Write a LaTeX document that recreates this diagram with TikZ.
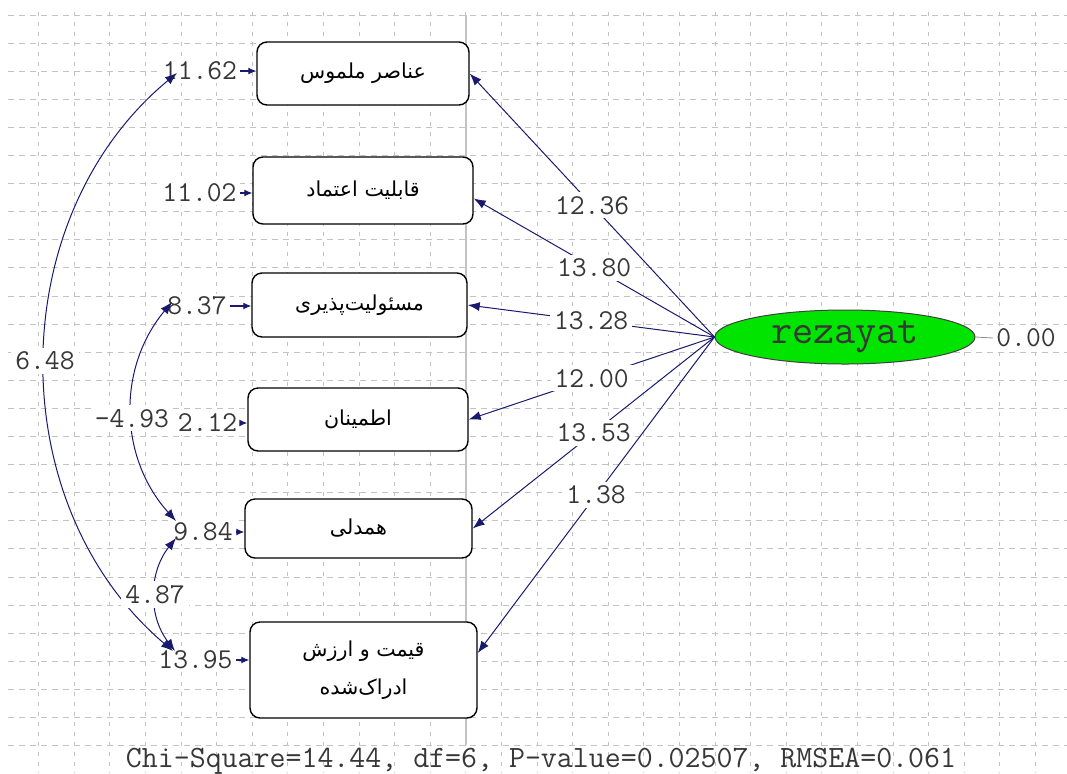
\documentclass[tikz,border=0pt]{standalone}
\usepackage{fontspec}
\newfontfamily\farsifont[Script=Arabic]{DejaVu Sans}
\TeXXeTstate=1
\usepackage{tikz}
\usetikzlibrary{positioning, shapes.geometric, calc, arrows.meta}
\definecolor{lisrel_navy}{RGB}{25,25,110}
\definecolor{latent_green}{RGB}{0,228,0}
\definecolor{grid_gray}{RGB}{195,195,195}
\definecolor{label_gray}{RGB}{55,55,55}
\tikzstyle{indicator} = [
    rectangle, rounded corners=5pt, align=center,
    inner sep=0pt, line width=0.7pt,
    draw=black, fill=white, text=black,
    font=\farsifont\fontsize{10.3}{19}\selectfont,
]
\tikzstyle{latent} = [
    ellipse, minimum width=130pt, minimum height=27pt, inner sep=0pt,
    draw=black!75, line width=0.5pt, fill=latent_green, text=label_gray,
    font=\ttfamily\fontsize{20.5}{22}\selectfont
]
\tikzstyle{value} = [inner sep=1.5pt, fill=white, text=label_gray, font=\ttfamily\fontsize{14.4}{16}\selectfont]
\tikzstyle{path_label} = [value, inner sep=2pt]
\tikzstyle{arrow} = [line width=0.5pt, lisrel_navy, -{Latex[length=6pt,width=4.5pt]}]
\tikzstyle{err_arrow} = [line width=0.6pt, lisrel_navy, -{Latex[length=4pt,width=3.5pt]}]
\tikzstyle{cov} = [line width=0.5pt, lisrel_navy, {Latex[length=6pt,width=4.5pt]}-{Latex[length=6pt,width=4.5pt]}]
\tikzstyle{grid_h} = [grid_gray, line width=0.5pt, dash pattern=on 3pt off 2.5pt]
\tikzstyle{grid_v} = [grid_gray, line width=0.5pt, dash pattern=on 2pt off 3pt]

\begin{document}
\begin{tikzpicture}[x=0.5pt, y=-0.5pt]
    \useasboundingbox (0,0) rectangle (1067,773);

    % grid
    \foreach \k in {0,...,26} {
        \draw[grid_h] (8,{15+28.1*\k}) -- (1067,{15+28.1*\k});
    }
    \foreach \k in {1,...,29} {
        \draw[grid_v] ({3+35.6*\k},12) -- ({3+35.6*\k},773);
    }
    \draw[grid_gray, line width=0.6pt] (466,15) -- (466,745);

    % indicator nodes
    \node[indicator, minimum width=106pt, minimum height=31.5pt] (tangibles) at (363,73.5) {\beginR عناصر ملموس\endR};
    \node[indicator, minimum width=110pt, minimum height=33.5pt] (reliability) at (363,190.5) {\beginR قابلیت اعتماد\endR};
    \node[indicator, minimum width=107.5pt, minimum height=32pt] (responsibility) at (359.5,305) {\beginR مسئولیت‌پذیری\endR};
    \node[indicator, minimum width=110pt, minimum height=31.5pt] (assurance) at (358,419.5) {\beginR اطمینان\endR};
    \node[indicator, minimum width=113.5pt, minimum height=29.5pt] (empathy) at (358.5,528.5) {\beginR همدلی\endR};
    \node[indicator, minimum width=113.5pt, minimum height=48pt] (perceived_value) at (363.5,670) {\beginR قیمت و ارزش\endR\\\beginR ادراک‌شده\endR};

    % latent node
    \node[latent] (rezayat) at (845,337) {rezayat};
    \node[value] (err_rezayat) at (1026,338) {0.00};
    \draw[black!45, line width=0.4pt] (rezayat.east) -- (err_rezayat.west);

    % error nodes
    \node[value] (err_tangibles) at (200,71) {11.62};
    \node[value] (err_reliability) at (199.5,193) {11.02};
    \node[value] (err_responsibility) at (197,306) {8.37};
    \node[value] (err_assurance) at (207.5,423) {2.12};
    \node[value] (err_empathy) at (203,532) {9.84};
    \node[value] (err_value) at (195.5,660) {13.95};

    % error arrows
    \draw[err_arrow] (err_tangibles.east) -- (err_tangibles.east -| tangibles.west);
    \draw[err_arrow] (err_reliability.east) -- (err_reliability.east -| reliability.west);
    \draw[err_arrow] (err_responsibility.east) -- (err_responsibility.east -| responsibility.west);
    \draw[err_arrow] (err_assurance.east) -- (err_assurance.east -| assurance.west);
    \draw[err_arrow] (err_empathy.east) -- (err_empathy.east -| empathy.west);
    \draw[err_arrow] (err_value.east) -- (err_value.east -| perceived_value.west);

    % arrows from rezayat to indicators
    \draw[arrow] (rezayat.west) to node[path_label] {12.36} (tangibles.east);
    \draw[arrow] (rezayat.west) to node[path_label] {13.80} ([yshift=-4pt]reliability.east);
    \draw[arrow] (rezayat.west) to node[path_label] {13.28} (responsibility.east);
    \draw[arrow] (rezayat.west) to node[path_label] {12.00} (assurance.east);
    \draw[arrow] (rezayat.west) to node[path_label] {13.53} (empathy.east);
    \draw[arrow] (rezayat.west) to node[path_label] {1.38} ([yshift=8.5pt]perceived_value.east);

    % covariances between errors
    \coordinate (cov_tangibles) at (177,73);
    \coordinate (cov_value_outer) at (173,651);
    \coordinate (cov_responsibility) at (172,302);
    \coordinate (cov_empathy_top) at (176,521);
    \coordinate (cov_empathy_bot) at (176,538);
    \coordinate (cov_value_inner) at (175,651);
    \draw[cov] (cov_value_outer) to[bend left=50] node[path_label] {6.48} (cov_tangibles);
    \draw[cov] (cov_empathy_top) to[bend left=41] node[path_label, yshift=-3pt] {-4.93} (cov_responsibility);
    \draw[cov] (cov_value_inner) to[bend left=38] node[path_label] {4.87} (cov_empathy_bot);

    % fit statistics
    \node[text=label_gray, font=\ttfamily\fontsize{15.5}{17}\selectfont] (chi_square) at (541,761) {Chi-Square=14.44, df=6, P-value=0.02507, RMSEA=0.061};
\end{tikzpicture}
\end{document}
